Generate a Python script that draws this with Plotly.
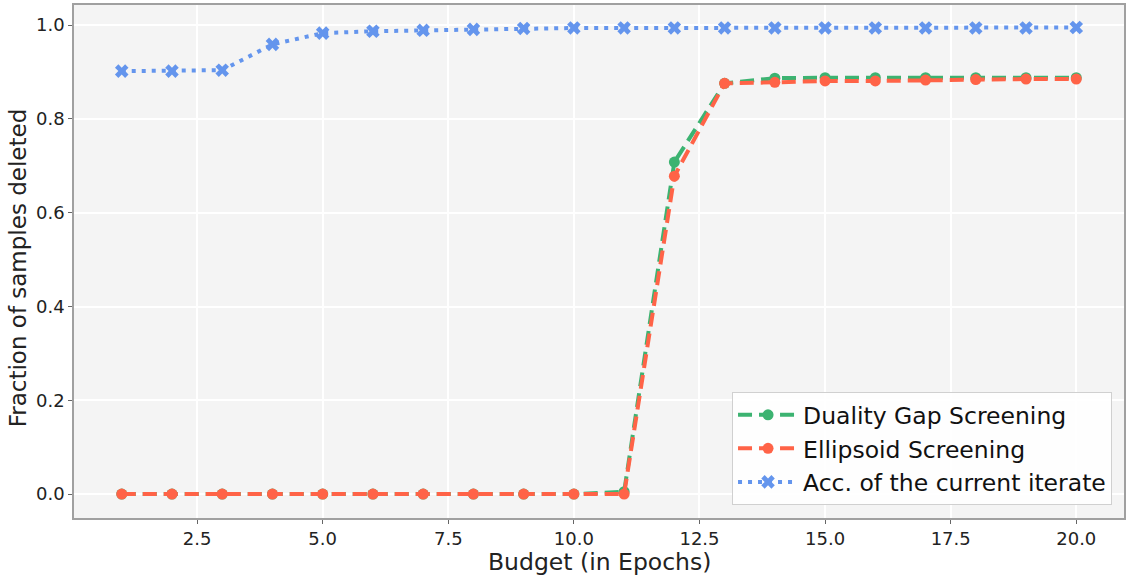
import plotly.graph_objects as go

epochs = list(range(1, 21))
duality_gap = [0, 0, 0, 0, 0, 0, 0, 0, 0, 0, 0.005, 0.708, 0.876, 0.887, 0.888, 0.888, 0.888, 0.888, 0.888, 0.888]
ellipsoid = [0, 0, 0, 0, 0, 0, 0, 0, 0, 0, 0, 0.678, 0.876, 0.878, 0.881, 0.881, 0.883, 0.884, 0.885, 0.885]
accuracy = [0.902, 0.902, 0.904, 0.959, 0.983, 0.987, 0.989, 0.991, 0.993, 0.994, 0.994, 0.994, 0.994, 0.994, 0.994, 0.994, 0.994, 0.994, 0.994, 0.995]
x_ticks = [2.5, 5.0, 7.5, 10.0, 12.5, 15.0, 17.5, 20.0]
y_ticks = [0.0, 0.2, 0.4, 0.6, 0.8, 1.0]

fig = go.Figure()
fig.add_trace(go.Scatter(x=epochs, y=duality_gap, name="Duality Gap Screening", mode="lines+markers",
                         line=dict(color="#3cb371", width=4, dash="14px,7px"),
                         marker=dict(symbol="circle", size=11, color="#3cb371")))
fig.add_trace(go.Scatter(x=epochs, y=ellipsoid, name="Ellipsoid Screening", mode="lines+markers",
                         line=dict(color="#ff6347", width=4, dash="14px,7px"),
                         marker=dict(symbol="circle", size=11, color="#ff6347")))
fig.add_trace(go.Scatter(x=epochs, y=accuracy, name="Acc. of the current iterate", mode="lines+markers",
                         line=dict(color="#6495ed", width=4, dash="4px,6px"),
                         marker=dict(symbol="x", size=12, color="#6495ed", line=dict(width=0))))

axis_common = dict(showgrid=True, gridcolor="white", gridwidth=2, zeroline=False,
                   showline=True, linecolor="#a0a0a0", linewidth=1.5, mirror=True,
                   ticks="outside", ticklen=4, tickcolor="#666666",
                   tickfont=dict(size=18, color="#222222"))

fig.update_layout(
    width=1126, height=577,
    margin=dict(l=74, r=0, t=5, b=59),
    paper_bgcolor="white", plot_bgcolor="#f4f4f4",
    font=dict(family="DejaVu Sans", color="#222222"),
    xaxis=dict(range=[0.05, 20.95], tickvals=x_ticks, ticktext=[f"{v:.1f}" for v in x_ticks], **axis_common),
    yaxis=dict(range=[-0.051, 1.043], tickvals=y_ticks, ticktext=[f"{v:.1f}" for v in y_ticks], **axis_common),
    legend=dict(x=0.9886, y=0.0253, xanchor="right", yanchor="bottom",
                bgcolor="rgba(255,255,255,0.85)", bordercolor="#d0d0d0", borderwidth=1,
                font=dict(size=23.5, color="#111111"), itemwidth=60, tracegroupgap=2),
    showlegend=True,
    annotations=[
        dict(text="Budget (in Epochs)", xref="paper", yref="paper", x=0.5, y=-0.085,
             xanchor="center", yanchor="middle", showarrow=False, font=dict(size=23.5)),
        dict(text="Fraction of samples deleted", xref="paper", yref="paper", x=-0.0532, y=0.487,
             xanchor="center", yanchor="middle", textangle=-90, showarrow=False, font=dict(size=23)),
    ],
)

fig.write_html("out.html", config={"displayModeBar": False},
               post_script="document.body.style.margin='0px';")
